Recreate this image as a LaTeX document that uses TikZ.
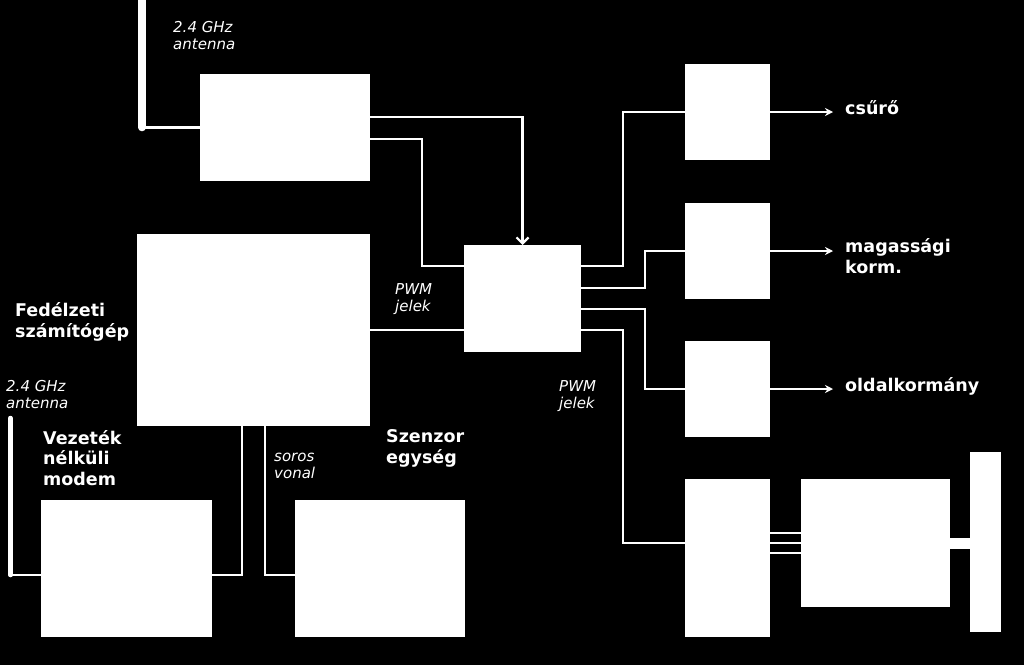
\documentclass[tikz,border=0pt]{standalone}
\usepackage{fontspec}
\setmainfont{DejaVu Sans}
\usetikzlibrary{positioning,arrows.meta,calc}

\begin{document}
\begin{tikzpicture}[x=1pt,y=-1pt,
    blk/.style={fill=white,inner sep=0pt,outer sep=0pt},
    wire/.style={white,line width=2.2pt},
    arrow/.style={wire,-{Stealth[length=8pt,width=8pt]}},
    title/.style={white,inner sep=0pt,anchor=base west,align=left,
                  font=\bfseries\fontsize{17.5}{20.5}\selectfont},
    note/.style={white,inner sep=0pt,anchor=base west,align=left,
                 font=\itshape\fontsize{15}{16.5}\selectfont}]
  \fill[black] (0,0) rectangle (1024,665);
  \useasboundingbox (0,0) rectangle (1024,665);

  % blocks
  \node[blk, minimum width=170pt, minimum height=107pt] (rx) at (285,127.5) {};
  \node[blk, minimum width=233pt, minimum height=192pt] (fc) at (253.5,330) {};
  \node[blk, minimum width=171pt, minimum height=137pt] (modem) at (126.5,568.5) {};
  \node[blk, minimum width=170pt, minimum height=137pt] (sens) at (380,568.5) {};
  \node[blk, minimum width=117pt, minimum height=107pt] (mux) at (522.5,298.5) {};
  \node[blk, minimum width=85pt, minimum height=96pt] (s1) at (727.5,112) {};
  \node[blk, minimum width=85pt, minimum height=96pt] (s2) at (727.5,251) {};
  \node[blk, minimum width=85pt, minimum height=96pt] (s3) at (727.5,389) {};
  \node[blk, minimum width=85pt, minimum height=158pt] (esc) at (727.5,558) {};
  \node[blk, minimum width=149pt, minimum height=128pt] (motor) at (875.5,543) {};
  \node[blk, minimum width=31pt, minimum height=180pt] (prop) at (985.5,542) {};

  % antennas
  \coordinate (ant1) at (142,127.5);
  \coordinate (ant2) at (10.5,575);
  \draw[white, line width=7.5pt, line cap=round] (142,-6) -- (ant1);
  \draw[white, line width=4.5pt, line cap=round] (10.5,418) -- (ant2);
  \draw[wire] (ant1) -- (rx.west);
  \draw[wire] (ant2) -- (modem.west |- ant2);

  % labels (base = last line)
  \node[note] (antlbl1) at (173,49) {2.4 GHz\\antenna};
  \node[note] (antlbl2) at (6,408) {2.4 GHz\\antenna};
  \node[title] (fclbl) at (15,337) {Fedélzeti\\számítógép};
  \node[title] (modemlbl) at (43,485) {Vezeték\\nélküli\\modem};
  \node[title] (senslbl) at (386,463) {Szenzor\\egység};
  \node[note] (serlbl) at (274,478) {soros\\vonal};
  \node[note] (pwmlbl1) at (395,311) {PWM\\jelek};
  \node[note] (pwmlbl2) at (559,408) {PWM\\jelek};
  \node[title] (out1) at (845,114) {csűrő};
  \node[title] (out2) at (845,273) {magassági\\korm.};
  \node[title] (out3) at (845,391) {oldalkormány};

  % receiver, computer -> mux
  \draw[wire, -{Straight Barb[length=6pt,width=12pt]}] ([yshift=10.5pt]rx.east) -| (mux.north);
  \draw[wire] ([yshift=-11.5pt]rx.east) -- ++(52,0) |- ([yshift=32.5pt]mux.west);
  \draw[wire] (fc.east) -- (mux.west |- fc.east);

  % computer -> modem, sensor
  \draw[wire] ([xshift=-11.5pt]fc.south) |- ([yshift=-6.5pt]modem.east);
  \draw[wire] ([xshift=11.5pt]fc.south) |- ([yshift=-6.5pt]sens.west);

  % mux -> servos
  \draw[wire] ([yshift=32.5pt]mux.east) -- ++(42,0) |- (s1.west);
  \draw[wire] ([yshift=10.5pt]mux.east) -- ++(64,0) |- (s2.west);
  \draw[wire] ([yshift=-10.5pt]mux.east) -- ++(64,0) |- (s3.west);
  \draw[wire] ([yshift=-31.5pt]mux.east) -- ++(42,0) |- ([yshift=15pt]esc.west);

  % servo outputs
  \draw[arrow, shorten >=12pt] (s1.east) -- (s1.east -| out1.west);
  \draw[arrow, shorten >=12pt] (s2.east) -- (s2.east -| out2.west);
  \draw[arrow, shorten >=12pt] (s3.east) -- (s3.east -| out3.west);

  % esc -> motor -> prop
  \foreach \d [count=\i] in {10,0,-10} {
    \coordinate (m\i) at ([yshift=\d pt]motor.west);
    \draw[wire] (esc.east |- m\i) -- (m\i);
  }
  \draw[white, line width=11pt] (motor.east) -- (prop.west |- motor.east);
\end{tikzpicture}
\end{document}
